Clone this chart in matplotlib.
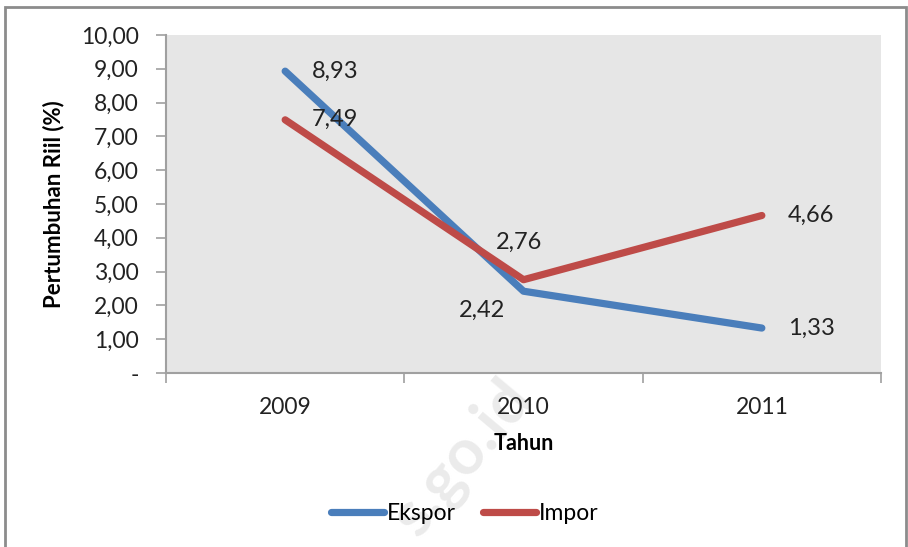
import matplotlib.pyplot as plt
from matplotlib.patches import Rectangle

plt.rcParams['font.family'] = ['Lato', 'DejaVu Sans']

tahun = ['2009', '2010', '2011']
ekspor = [8.93, 2.42, 1.33]
impor = [7.49, 2.76, 4.66]
yticks = [0, 1, 2, 3, 4, 5, 6, 7, 8, 9, 10]

biru = '#4a7ebb'
merah = '#be4b48'

fig = plt.figure(figsize=(9.08, 5.47), dpi=100)
ax = fig.add_axes([166/908, 1-373/547, 715/908, 338/547])
ax.set_facecolor('#e6e6e6')

x = list(range(len(tahun)))
ax.plot(x, ekspor, color=biru, lw=5.2, solid_capstyle='round', label='Ekspor', zorder=3)
ax.plot(x, impor, color=merah, lw=5.2, solid_capstyle='round', label='Impor', zorder=4)

# label nilai
def fmt(v):
    return f'{v:.2f}'.replace('.', ',')

lbl = dict(fontsize=17, color='#222222', zorder=5)
ax.annotate(fmt(ekspor[0]), (0, ekspor[0]), xytext=(19, 0), textcoords='offset points', ha='left', va='center', **lbl)
ax.annotate(fmt(impor[0]), (0, impor[0]), xytext=(19, 0), textcoords='offset points', ha='left', va='center', **lbl)
ax.annotate(fmt(impor[1]), (1, impor[1]), xytext=(-3, 27), textcoords='offset points', ha='center', va='center', **lbl)
ax.annotate(fmt(ekspor[1]), (1, ekspor[1]), xytext=(-13, -14), textcoords='offset points', ha='right', va='center', **lbl)
ax.annotate(fmt(impor[2]), (2, impor[2]), xytext=(19, 0), textcoords='offset points', ha='left', va='center', **lbl)
ax.annotate(fmt(ekspor[2]), (2, ekspor[2]), xytext=(19, 0), textcoords='offset points', ha='left', va='center', **lbl)

ax.set_xlim(-0.5, 2.5)
ax.set_ylim(0, 10)
ax.set_yticks(yticks)
ax.set_yticklabels(['-'] + [fmt(v) for v in yticks[1:]])
ax.set_xticks([-0.5, 0.5, 1.5, 2.5])
ax.set_xticklabels([])
ax.set_xticks(x, minor=True)
ax.set_xticklabels(tahun, minor=True)
ax.tick_params(axis='x', which='major', length=7, color='#a0a0a0', width=1.2)
ax.tick_params(axis='x', which='minor', length=0, pad=17, labelsize=16.5, labelcolor='#222222')
ax.tick_params(axis='y', length=7, color='#a0a0a0', width=1.2, labelsize=16.5, labelcolor='#222222', pad=12.5)
for s in ['top', 'right']:
    ax.spines[s].set_visible(False)
for s in ['left', 'bottom']:
    ax.spines[s].set_color('#a0a0a0')
    ax.spines[s].set_linewidth(1.5)

ax.set_xlabel('Tahun', fontsize=15.5, fontweight='bold', labelpad=11)
ax.set_ylabel('Pertumbuhan Riil (%)', fontsize=16, fontweight='bold', labelpad=12)

ax.legend(loc='upper center', bbox_to_anchor=(0.418, -0.325), ncol=2, frameon=False,
          fontsize=16.5, handlelength=2.3, handletextpad=0.13, columnspacing=1.2)

# bingkai luar
fig.patches.append(Rectangle((5/908, -0.05), 901/908, 1.05 - 7/547, transform=fig.transFigure,
                             fill=False, edgecolor='#8c8c8c', lw=2, zorder=0))

# watermark
fig.text(462/908, 1-458/547, 's.go.id', fontsize=46, fontweight='bold', color='#ebebeb',
         rotation=50, rotation_mode='anchor', ha='center', va='center', zorder=-1)

fig.savefig('out.png', dpi=100)
